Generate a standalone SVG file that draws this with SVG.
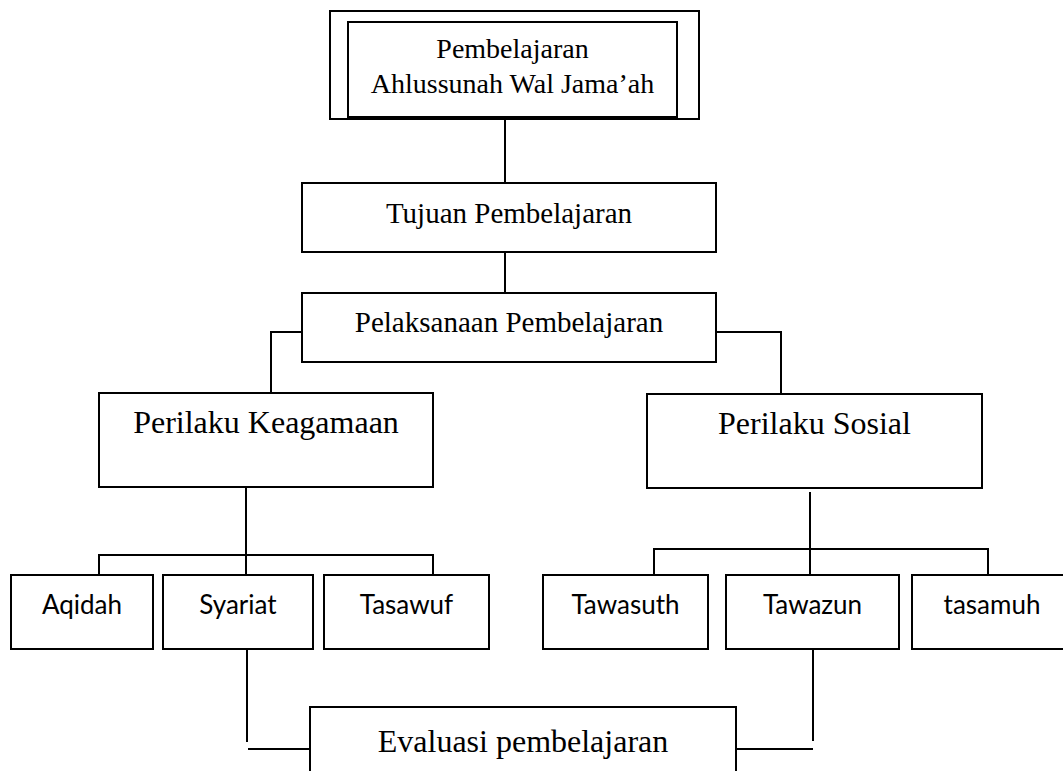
<svg xmlns="http://www.w3.org/2000/svg" width="1063" height="771" viewBox="0 0 1063 771">
<style>
.box{fill:#fff;stroke:#000;stroke-width:2}
.ln{fill:none;stroke:#000;stroke-width:2}
.serif{font-family:"Liberation Serif","Times New Roman",serif;fill:#000;text-anchor:middle}
.sans{font-family:Lato,"Open Sans","Liberation Sans",sans-serif;font-size:26px;fill:#000;text-anchor:middle}
</style>
<rect width="1063" height="771" fill="#fff"/>
<g id="connectors">
<line class="ln" x1="505" y1="119" x2="505" y2="183"/>
<line class="ln" x1="505" y1="252" x2="505" y2="293"/>
<polyline class="ln" points="302,332 271,332 271,393"/>
<polyline class="ln" points="716,332 781,332 781,394"/>
<line class="ln" x1="246" y1="487" x2="246" y2="575"/>
<polyline class="ln" points="99,575 99,555 433,555 433,575"/>
<line class="ln" x1="810" y1="492" x2="810" y2="575"/>
<polyline class="ln" points="654,575 654,549 988,549 988,575"/>
<line class="ln" x1="247" y1="649" x2="247" y2="742"/>
<line class="ln" x1="248" y1="749" x2="310" y2="749"/>
<line class="ln" x1="813" y1="649" x2="813" y2="741"/>
<line class="ln" x1="736" y1="749" x2="813" y2="749"/>
</g>
<g id="node-top">
<rect class="box" x="330" y="11" width="369" height="108"/>
<rect class="box" x="348" y="22" width="329" height="95"/>
<text class="serif" x="512.5" y="58" font-size="28">Pembelajaran</text>
<text class="serif" x="512.5" y="93" font-size="28">Ahlussunah Wal Jama’ah</text>
</g>
<g id="node-tujuan">
<rect class="box" x="302" y="183" width="414" height="69"/>
<text class="serif" x="509" y="223" font-size="29">Tujuan Pembelajaran</text>
</g>
<g id="node-pelaksanaan">
<rect class="box" x="302" y="293" width="414" height="69"/>
<text class="serif" x="509" y="332" font-size="29">Pelaksanaan Pembelajaran</text>
</g>
<g id="node-keagamaan">
<rect class="box" x="99" y="393" width="334" height="94"/>
<text class="serif" x="266" y="433" font-size="32">Perilaku Keagamaan</text>
</g>
<g id="node-sosial">
<rect class="box" x="647" y="394" width="335" height="94"/>
<text class="serif" x="814.5" y="434" font-size="32">Perilaku Sosial</text>
</g>
<g id="node-aqidah">
<rect class="box" x="11" y="575" width="142" height="74"/>
<text class="sans" x="82" y="614">Aqidah</text>
</g>
<g id="node-syariat">
<rect class="box" x="163" y="575" width="150" height="74"/>
<text class="sans" x="238" y="614">Syariat</text>
</g>
<g id="node-tasawuf">
<rect class="box" x="324" y="575" width="165" height="74"/>
<text class="sans" x="406.5" y="614">Tasawuf</text>
</g>
<g id="node-tawasuth">
<rect class="box" x="543" y="575" width="165" height="74"/>
<text class="sans" x="625.5" y="614">Tawasuth</text>
</g>
<g id="node-tawazun">
<rect class="box" x="726" y="575" width="173" height="74"/>
<text class="sans" x="812.5" y="614">Tawazun</text>
</g>
<g id="node-tasamuh">
<rect class="box" x="912" y="575" width="163" height="74"/>
<text class="sans" x="992" y="614">tasamuh</text>
</g>
<g id="node-evaluasi">
<rect class="box" x="310" y="707" width="426" height="80"/>
<text class="serif" x="523" y="752" font-size="32">Evaluasi pembelajaran</text>
</g>
</svg>
